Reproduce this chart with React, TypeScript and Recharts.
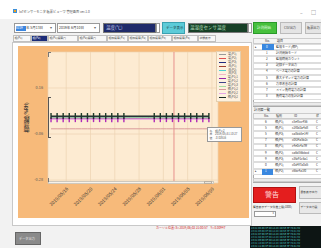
import React from 'react';
import { LineChart, Line, XAxis, YAxis, CartesianGrid, ReferenceLine, Legend } from 'recharts';

const days = [0.5, 1.5, 2.5, 3.5, 4.5, 5.5, 6.5, 7.5, 8.5, 9.5, 10.5, 11.5, 12.5, 13.5, 14.5, 15.5, 16.5, 17.5, 18.5, 19.5, 20.5, 21.5, 22.5, 23.5, 24.5, 25.5, 26.5];
const tickDays = [3, 7, 11, 15, 19, 23, 27];
const tickLabels = ['2019/05/16', '2019/05/20', '2019/05/24', '2019/05/28', '2019/06/01', '2019/06/05', '2019/06/09'];
const yTicks = [-0.28, -0.06, 0.16];
const seriesNames = ['電(P1)', '電(P2)', '電(P3)', '流(P1)', '流(P2)', '流(P3)', '電(P1)1', '電(P1)2', '電(P1)3', '相(P1)2', '相(P2)2', '相(P3)2'];
const seriesColors = ['#9a9a9a', '#e05050', '#202a80', '#a04030', '#50d0d0', '#f2b6c6', '#9a22a8', '#404488', '#a6e0a0', '#d99a9a', '#e6a6e6', '#1a2a22'];

const v01 = [0.021, 0.021, 0.021, 0.021, 0.021, 0.021, 0.021, 0.021, 0.021, 0.021, 0.021, 0.021, 0.021, 0.021, 0.021, 0.021, 0.021, 0.021, 0.021, 0.021, 0.021, 0.021, 0.021, 0.021, 0.021, 0.021, 0.021];
const v02 = [0.016, 0.016, 0.016, 0.016, 0.016, 0.016, 0.016, 0.016, 0.016, 0.016, 0.016, 0.016, 0.016, 0.016, 0.016, 0.016, 0.016, 0.016, 0.016, 0.016, 0.016, 0.016, 0.016, 0.016, 0.016, 0.016, 0.016];
const v03 = [0.022, 0.022, 0.022, 0.022, 0.022, 0.022, 0.022, 0.022, 0.022, 0.022, 0.022, 0.022, 0.022, 0.022, 0.022, 0.022, 0.022, 0.022, 0.022, 0.022, 0.022, 0.022, 0.022, 0.022, 0.022, 0.022, 0.022];
const v04 = [0.02, 0.02, 0.02, 0.02, 0.02, 0.02, 0.02, 0.02, 0.02, 0.02, 0.02, 0.02, 0.02, 0.02, 0.02, 0.02, 0.02, 0.02, 0.02, 0.02, 0.02, 0.02, 0.02, 0.02, 0.02, 0.02, 0.02];
const v05 = [0.019, 0.019, 0.019, 0.019, 0.019, 0.019, 0.019, 0.019, 0.019, 0.019, 0.019, 0.019, 0.019, 0.019, 0.019, 0.019, 0.019, 0.019, 0.019, 0.019, 0.019, 0.019, 0.019, 0.019, 0.019, 0.019, 0.019];
const v06 = [0.012, 0.012, 0.012, 0.012, 0.012, 0.012, 0.012, 0.012, 0.012, 0.012, 0.012, 0.012, 0.012, 0.012, 0.012, 0.012, 0.012, 0.012, 0.012, 0.012, 0.012, 0.012, 0.012, 0.012, 0.012, 0.012, 0.012];
const v07 = [0.016, 0.016, 0.016, 0.016, 0.016, 0.016, 0.016, 0.016, 0.016, 0.016, 0.016, 0.016, 0.016, null, null, null, null, 0.016, 0.016, 0.016, 0.016, 0.016, 0.016, 0.016, 0.016, 0.016, 0.016];
const v08 = [0.021, 0.021, 0.021, 0.021, 0.021, 0.021, 0.021, 0.021, 0.021, 0.021, 0.021, 0.021, 0.021, 0.021, 0.021, 0.021, 0.021, 0.021, 0.021, 0.021, 0.021, 0.021, 0.021, 0.021, 0.021, 0.021, 0.021];
const v09 = [0.018, 0.018, 0.018, 0.018, 0.018, 0.018, 0.018, 0.018, 0.018, 0.018, 0.018, 0.018, 0.018, 0.018, 0.018, 0.018, 0.018, 0.018, 0.018, 0.018, 0.018, 0.018, 0.018, 0.018, 0.018, 0.018, 0.018];
const v10 = [-0.035, -0.035, -0.035, -0.035, -0.035, -0.035, -0.035, -0.035, -0.035, -0.035, -0.035, -0.035, -0.035, -0.035, -0.035, -0.035, -0.035, -0.035, -0.035, -0.035, -0.035, -0.035, -0.035, -0.035, -0.035, -0.035, -0.035];
const v11 = [0.011, 0.011, 0.011, 0.011, 0.011, 0.011, 0.011, 0.011, 0.011, 0.011, 0.011, 0.011, 0.011, 0.011, 0.011, 0.011, 0.011, 0.011, 0.011, 0.011, 0.011, 0.011, 0.011, 0.011, 0.011, 0.011, 0.011];
const v12 = [0.026, 0.026, 0.026, 0.026, 0.026, 0.026, 0.026, 0.026, 0.026, 0.026, 0.026, 0.026, 0.026, null, null, null, null, 0.026, 0.026, 0.026, 0.026, 0.026, 0.026, 0.026, 0.026, 0.026, 0.026];
const seriesValues = [v01, v02, v03, v04, v05, v06, v07, v08, v09, v10, v11, v12];
const cursorDay = 20.75;

const data = days.map((d, i) => {
  const row: any = { day: d };
  seriesValues.forEach((arr, k) => { row['s' + k] = arr[i]; });
  return row;
});

const JP = '"Noto Sans CJK JP", "Noto Sans", sans-serif';

const tickDot = (color: string, up: number, down: number) => (props: any) => {
  const { cx, cy, index, value } = props;
  if (cx == null || cy == null || value == null || (Array.isArray(value) && value[1] == null)) return <g key={'d' + index} />;
  return <line key={'d' + index} x1={cx} x2={cx} y1={cy - up} y2={cy + down} stroke={color} strokeWidth={1.4} />;
};

const LegendBox = () => (
  <div style={{ background: '#fdf1df', border: '0.5px solid #e5cfae', padding: '1px 2px', boxSizing: 'border-box', width: 25 }}>
    {seriesNames.map((n, i) => (
      <div key={n} style={{ display: 'flex', alignItems: 'center', height: 3.9 }}>
        <div style={{ width: 7, height: 1, background: seriesColors[i], marginRight: 2 }} />
        <span style={{ fontSize: 3, lineHeight: '3.9px', color: '#555', fontFamily: JP, whiteSpace: 'nowrap' }}>{n}</span>
      </div>
    ))}
  </div>
);

const T = (p: { x: number; y: number; s?: number; c?: string; children: any; w?: number; b?: boolean }) => (
  <div style={{ position: 'absolute', left: p.x, top: p.y, fontSize: p.s || 3.5, color: p.c || '#333', fontFamily: JP, whiteSpace: 'nowrap', lineHeight: 1, fontWeight: p.b ? 700 : 400 }}>{p.children}</div>
);
const Box = (p: { x: number; y: number; w: number; h: number; bg: string; bd?: string; children?: any; z?: number }) => (
  <div style={{ position: 'absolute', left: p.x, top: p.y, width: p.w, height: p.h, background: p.bg, border: p.bd ? '0.5px solid ' + p.bd : undefined, boxSizing: 'border-box', zIndex: p.z }}>{p.children}</div>
);

const tabs = [
  [13, 31, '相(P1)'], [31, 48, '相(P2)'], [48, 78, '相(P1)積算(°)'], [78, 107, '相(P2)積算(°)'], [107, 128, '相加積算(P1)'],
  [128, 148, '相加積算(P2)'], [148, 172, '相加積算(P3)'], [172, 198, '相加積算(P4)'], [198, 216, '状態表示'],
];
const grid1 = ['監視モード(相P)', '計測開始モード', '監視時間カウント', '記録データ出力', 'ベース電力の計算', '最大デマンド電力の計算', '力率改善の計算', 'メイン負荷電力の計算', '負荷電力の集計計算'];
const grid2 = [
  ['6', '相(P1)', 'c5ef5cc456', 'C'], ['5', '相(P1)', 'c2f0d3a4d8', 'C'], ['5', '相(P3)', 'ca8bb5e14f', 'C'], ['7', '相(P4)', 'c0f24a5b2c', 'C'],
  ['8', '相(P1)', 'c4e0c4a7ff', 'C'], ['9', '相(P2)', 'ca6d56bbcd', 'C'], ['9', '相(P3)', 'c3fa91c6a1', 'C'], ['0', '相(P1)', 'c0d4f7a0d5', 'C'], ['1', '相(P2)', 'c6bc4a1f0', 'C'],
];
const consoleLines = [
  '13:21:05 RX 3F 00 1A 2C 4D 5E 6F 70 81 92',
  '13:21:06 RX 3F 00 1A 2C 4D 5E 6F 70 81 92',
  '13:21:07 RX 3F 00 1A 2C 4D 5E 6F 70 81 92',
  '13:21:08 RX 3F 00 1A 2C 4D 5E 6F 70 81 92',
  '13:21:09 RX 3F 00 1A 2C 4D 5E 6F 70 81 92',
  '13:21:10 RX 3F 00 1A 2C 4D 5E 6F 70 81 92',
  '13:21:11 RX 3F 00 1A 2C 4D 5E 6F 70 81 92',
];

export default function App() {
  return (
    <div style={{ position: 'fixed', left: 0, top: 0, width: 321, height: 248, overflow: 'hidden', background: '#f2f2f2' }}>
      {/* title bar */}
      <Box x={0} y={0} w={321} h={19} bg="#ffffff" />
      <Box x={13} y={9} w={4} h={4} bg="#3c8fd8" />
      <Box x={14} y={10} w={2} h={2} bg="#f0a020" />
      <T x={19} y={9.5} s={3.2} c="#555">IoTセンサーモニタ 帳票ビューワ 管理画面 ver.1.0</T>
      <T x={300} y={10} s={5} c="#666">–</T>
      <T x={311} y={9} s={5} c="#666">□</T>

      {/* toolbar */}
      <Box x={14} y={23} w={42} h={10} bg="#fff" bd="#999">
        <div style={{ position: 'absolute', left: 1, top: 2, width: 10, height: 5, background: '#3a86e0' }} />
      </Box>
      <T x={15} y={25.5} s={3.5} c="#fff">2019</T>
      <T x={26} y={25.5} s={3.5}>年 5月13日</T>
      <T x={50} y={25.5} s={3.5} c="#666">▾</T>
      <Box x={57} y={23} w={43} h={10} bg="#fff" bd="#999" />
      <T x={59} y={25.5} s={3.5}>2019年 6月10日</T>
      <T x={94} y={25.5} s={3.5} c="#666">▾</T>
      <Box x={103} y={23} w={53} h={10} bg="#1e2a6a" bd="#777" />
      <T x={106} y={25} s={4.5} c="#c8d0f0">温度(℃)</T>
      <Box x={156} y={23} w={4} h={10} bg="#fff" bd="#999" />
      <Box x={162} y={22} w={23} h={12} bg="#5ccbd8" bd="#3aa0b0" />
      <T x={166} y={26} s={3.5} c="#1a3a40">データ表示</T>
      <Box x={188} y={23} w={60} h={10} bg="#163f26" bd="#777" />
      <T x={190} y={25} s={4.5} c="#b8e0c0">温湿度センサ温度</T>
      <Box x={248} y={23} w={4} h={10} bg="#fff" bd="#999" />
      <Box x={253} y={22} w={24} h={12} bg="#46c03c" bd="#2a9a2a" />
      <T x={257} y={26} s={3.5} c="#e8ffe8">計測開始</T>
      <Box x={280} y={22} w={22} h={12} bg="#e4e4e4" bd="#bbb" />
      <T x={284} y={26} s={3.2} c="#444">CSV出力</T>
      <Box x={305} y={22} w={22} h={12} bg="#e4e4e4" bd="#bbb" />
      <T x={307} y={26} s={3.2} c="#444">帳票出力</T>

      {/* tab page */}
      <Box x={12} y={42} w={240} h={184} bg="#ffffff" bd="#c8c8c8" />
      {tabs.map(([a, b, t], i) => (
        <React.Fragment key={i}>
          <Box x={a as number} y={35} w={(b as number) - (a as number)} h={7} bg={i === 1 ? '#1c2c78' : '#f8f8f8'} bd="#c0c0c0" />
          <T x={(a as number) + 1.5} y={37} s={2.8} c={i === 1 ? '#fff' : '#444'}>{t as string}</T>
        </React.Fragment>
      ))}
      <Box x={18} y={46} w={231} h={172} bg="#f7ba7a" />

      {/* chart */}
      <div style={{ position: 'absolute', left: 18, top: 46 }}>
        <LineChart width={231} height={172} data={data} margin={{ top: 6, right: 31, bottom: 0, left: 0 }}>
          <CartesianGrid fill="#fdebd2" stroke="#ecd3b2" strokeWidth={0.7} />
          <XAxis
            dataKey="day" type="number" domain={[0, 28]} ticks={tickDays} interval={0}
            tickFormatter={(v: number) => tickLabels[tickDays.indexOf(v)] ?? ''}
            height={35} axisLine={false} tickLine={false} tickSize={2} tickMargin={2}
            angle={-45} textAnchor="end"
            tick={{ fontSize: 4.6, fill: '#333', fontFamily: JP }}
          />
          <YAxis
            type="number" domain={[-0.294, 0.332]} ticks={yTicks} interval={0} width={30}
            axisLine={false} tickLine={false} tickSize={3} tickMargin={2}
            tickFormatter={(v: number) => v.toFixed(2)}
            tick={{ fontSize: 3.8, fill: '#555', fontFamily: JP }}
            label={{ value: '相対湿度(%RH)', angle: -90, position: 'insideLeft', offset: 9, style: { fontSize: 4.2, fill: '#333', fontFamily: JP, fontWeight: 700, textAnchor: 'middle' } }}
          />
          <Legend layout="vertical" align="center" verticalAlign="middle" wrapperStyle={{ left: 198, top: 5, width: 25 }} content={() => <LegendBox />} />
          <ReferenceLine x={cursorDay} stroke="#e07a7a" strokeWidth={0.8} />
          {seriesNames.map((n, k) => (
            <Line
              key={n} name={n} dataKey={'s' + k} type="linear" stroke={seriesColors[k]} strokeWidth={k === 2 || k === 11 ? 1.3 : 1}
              isAnimationActive={false} connectNulls
              dot={k === 11 ? tickDot('#1d3a2a', 3, 3) : k === 6 ? tickDot('#b02ab8', 1, 4) : false}
              activeDot={false}
            />
          ))}
        </LineChart>
      </div>

      {/* chart scroll decorations */}
      <Box x={48} y={97} w={1} h={41} bg="#555" />
      <Box x={48} y={97} w={3} h={0.8} bg="#555" />
      <Box x={48} y={137.2} w={3} h={0.8} bg="#555" />
      <Box x={48} y={52} w={1} h={5} bg="#777" />
      <Box x={48} y={52} w={2.5} h={0.7} bg="#777" />
      <Box x={48} y={181} w={166} h={3} bg="#f7f2ea" bd="#cfc8bc" />
      <Box x={48} y={178} w={0.8} h={4} bg="#777" />
      <Box x={204} y={181} w={8} h={3} bg="#ece6dc" bd="#b8b0a4" />

      {/* tooltip */}
      <Box x={207} y={127} w={35} h={15} bg="#fdfdfd" bd="#999" z={3}>
        <div style={{ position: 'absolute', left: 1.5, top: 1.5, fontSize: 2.8, lineHeight: '3.8px', color: '#555', fontFamily: JP, whiteSpace: 'nowrap' }}>
          <div>名　相(P1)2</div>
          <div>日　2019/05/31 10:27</div>
          <div>値　-0.03516</div>
        </div>
      </Box>

      {/* right grid 1 */}
      <Box x={253} y={38} w={70} h={69} bg="#ffffff" bd="#aaa" />
      <Box x={253} y={38} w={70} h={6} bg="#f4f4f4" bd="#ccc" />
      <T x={265} y={39.5} s={3}>No.</T>
      <T x={277} y={39.5} s={3}>項目</T>
      {grid1.map((t, i) => (
        <React.Fragment key={i}>
          <Box x={253} y={44 + i * 6.2} w={70} h={6.2} bg="#fff" bd="#ddd" />
          {i === 0 && <Box x={262} y={44} w={12} h={6.2} bg="#3a88e0" />}
          {i === 0 && <T x={255} y={45.5} s={3}>▸</T>}
          <T x={266} y={45.5 + i * 6.2} s={3} c={i === 0 ? '#fff' : '#333'}>{String(i)}</T>
          <T x={276} y={45.5 + i * 6.2} s={3}>{t}</T>
        </React.Fragment>
      ))}
      <Box x={253} y={102} w={70} h={4} bg="#eaeaea" bd="#ccc" />

      <T x={254} y={108} s={3.2}>計測器一覧</T>

      {/* right grid 2 */}
      <Box x={253} y={113} w={70} h={70} bg="#ffffff" bd="#aaa" />
      <Box x={253} y={113} w={70} h={6} bg="#f4f4f4" bd="#ccc" />
      <T x={264} y={114.5} s={3}>No.</T>
      <T x={276} y={114.5} s={3}>種別</T>
      <T x={294} y={114.5} s={3}>ID</T>
      <T x={316} y={114.5} s={3}>状</T>
      {grid2.map((r, i) => (
        <React.Fragment key={i}>
          <Box x={253} y={119 + i * 6.2} w={70} h={6.2} bg="#fff" bd="#ddd" />
          {i === 8 && <Box x={262} y={119 + i * 6.2} w={11} h={6.2} bg="#3a88e0" />}
          {i === 8 && <T x={255} y={120.5 + i * 6.2} s={3}>▸</T>}
          <T x={265} y={120.5 + i * 6.2} s={3} c={i === 8 ? '#fff' : '#333'}>{r[0]}</T>
          <T x={275} y={120.5 + i * 6.2} s={3}>{r[1]}</T>
          <T x={292} y={120.5 + i * 6.2} s={3}>{r[2]}</T>
          <T x={316} y={120.5 + i * 6.2} s={3}>{r[3]}</T>
        </React.Fragment>
      ))}
      <Box x={253} y={178} w={70} h={4} bg="#eaeaea" bd="#ccc" />

      {/* warning area */}
      <Box x={253} y={187} w={43} h={16} bg="#e41e1e" bd="#b01010" />
      <T x={265} y={191} s={7} c="#ffdede">警告</T>
      <Box x={299} y={186} w={24} h={13} bg="#e8e8e8" bd="#bbb" />
      <T x={300.5} y={191} s={2.8}>最新表示出力</T>
      <Box x={299} y={202} w={24} h={12} bg="#e8e8e8" bd="#bbb" />
      <T x={300.5} y={206} s={2.8}>データ出力設</T>
      <T x={253} y={206} s={2.8}>警告表示データ件数上限(1000)</T>
      <Box x={254} y={211} w={22} h={6} bg="#fff" bd="#999" />
      <T x={272} y={212} s={3} c="#666">⇕</T>

      {/* status text */}
      <T x={156} y={226.5} s={3} c="#d02020">カーソル位置: X= 2019/06/02 21:00:57　Y= 0.00947</T>

      {/* console */}
      <Box x={250} y={226} w={71} h={22} bg="#0d1514" />
      {consoleLines.map((l, i) => (
        <T key={i} x={251} y={227 + i * 3} s={2.6} c={i % 2 ? '#3fb8b8' : '#56d0c8'}>{l}</T>
      ))}

      {/* bottom-left button */}
      <Box x={15} y={232} w={26} h={13} bg="#8a8a8a" bd="#666" />
      <T x={19} y={237} s={3.2} c="#e6e6e6">データ出力</T>
    </div>
  );
}
